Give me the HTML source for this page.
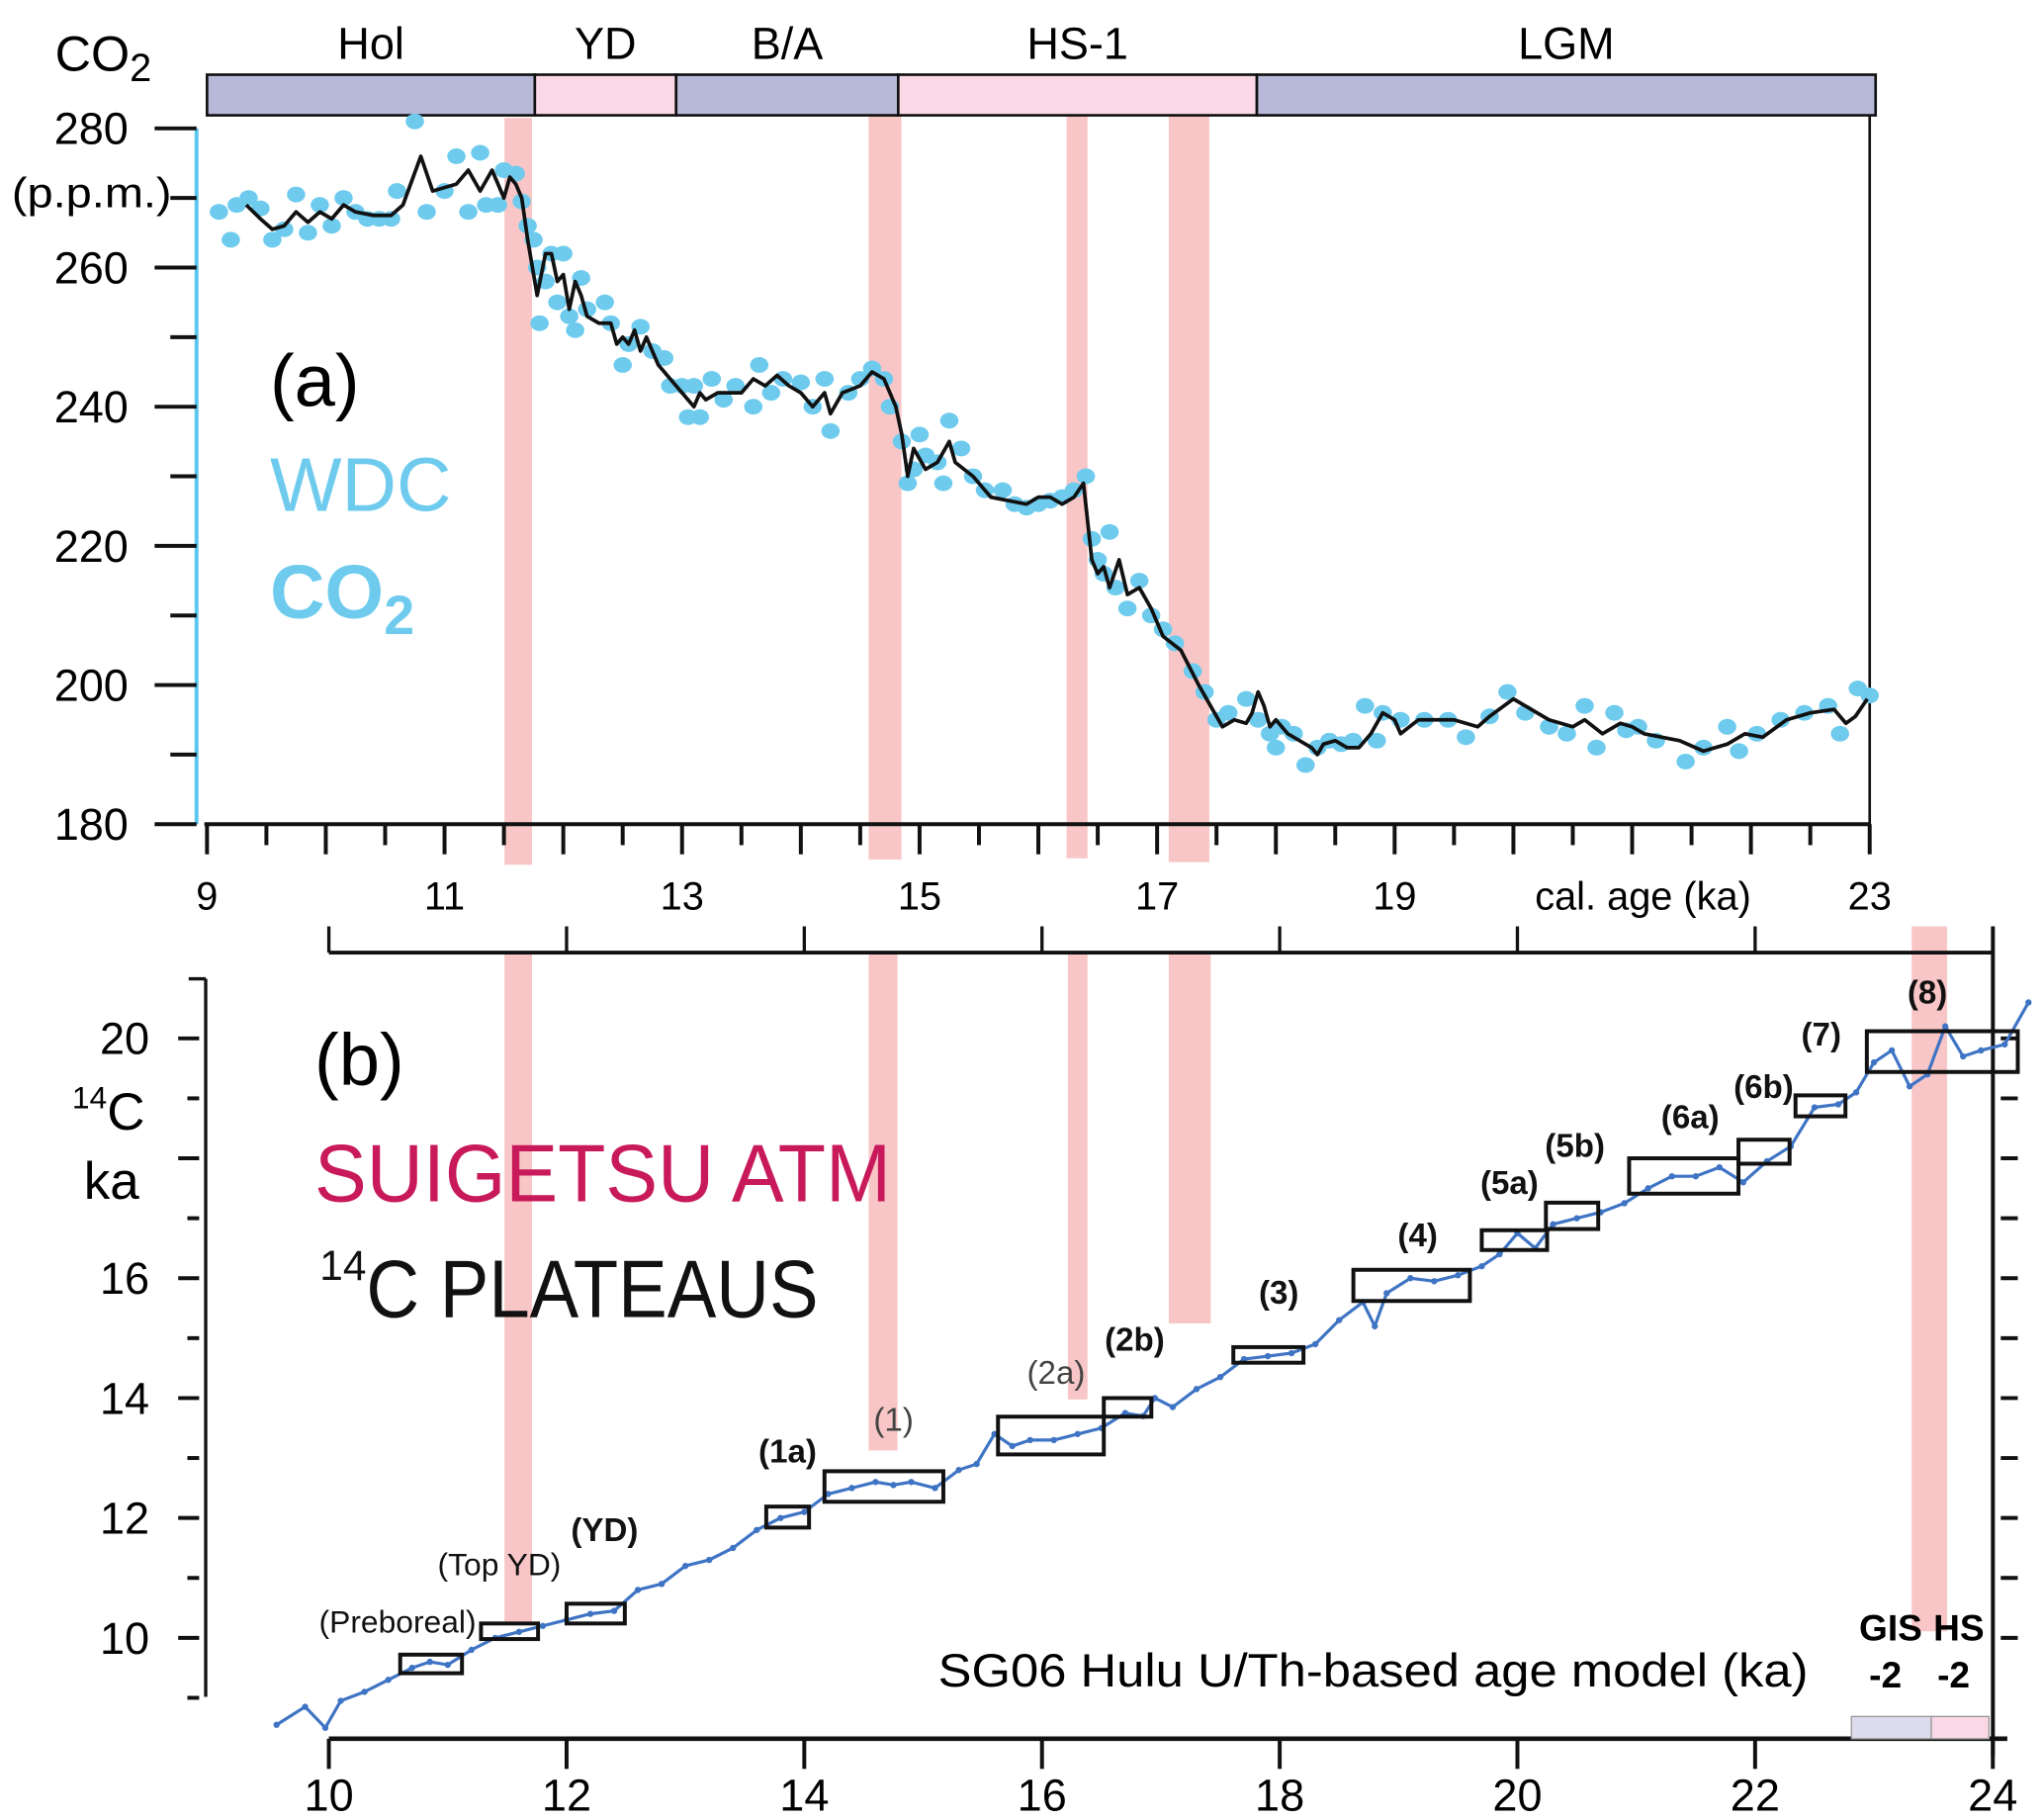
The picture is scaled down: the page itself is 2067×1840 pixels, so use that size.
<!DOCTYPE html>
<html><head><meta charset="utf-8"><style>
html,body{margin:0;padding:0;background:#fff;}
svg{display:block;}
text{font-family:"Liberation Sans",sans-serif;}
</style></head><body>
<svg id="fig" width="2067" height="1840" viewBox="0 0 1560 1389" preserveAspectRatio="none" xmlns="http://www.w3.org/2000/svg">
<g id="bgbars"></g>
<g id="pa"></g>
<g id="pb"></g>
</svg>
<script>
// ---- Panel (a) data: WDC CO2 ----
const co2LineAge = [9.33,9.45,9.55,9.65,9.75,9.85,9.95,10.05,10.15,10.25,10.4,10.55,10.65,10.8,10.9,11.1,11.2,11.3,11.4,11.5,11.55,11.6,11.65,11.7,11.78,11.85,11.9,11.95,12.0,12.05,12.1,12.15,12.2,12.3,12.4,12.45,12.5,12.55,12.6,12.65,12.7,12.8,12.9,13.0,13.1,13.15,13.2,13.3,13.5,13.6,13.7,13.8,13.9,14.0,14.1,14.2,14.25,14.35,14.5,14.6,14.7,14.75,14.8,14.85,14.9,14.95,15.05,15.15,15.25,15.3,15.45,15.6,15.9,16.0,16.1,16.2,16.3,16.38,16.45,16.5,16.55,16.6,16.68,16.75,16.85,16.95,17.05,17.2,17.35,17.45,17.55,17.65,17.75,17.8,17.85,17.9,17.95,18.0,18.1,18.2,18.3,18.35,18.4,18.5,18.6,18.7,18.8,18.9,19.0,19.05,19.2,19.5,19.7,19.8,20.0,20.3,20.5,20.6,20.75,20.9,21.0,21.1,21.4,21.6,21.8,21.95,22.1,22.3,22.5,22.7,22.8,22.88,22.98];
const co2LinePpm = [269,267,265.5,266,268,266.5,268,267,269,268,267.5,267.5,269,276,271,272,274,271,274,270,273,272,270,264,256,262,262,258,259,254,258,256,253,252,252,249,250,249,251,248,250,246,244,242,240,242,241,242,242,244,243,244.5,243,242,240,242,239,242,243,245,244,242,240,236,230,234,231,232,235,232,230,227,226,227,227,226,227,229,218,216,217,214,218,213,214,211,207,205,200,197,194,195,194.5,196,199,197,194,195,193,192,191,190,191.5,192,191,191,193,196,195,193,195,195,194,195.5,198,195,194,195,193,194.5,194,193,192,190.5,191.5,193,192.5,195,196,196.5,194.5,195.5,198];
const co2DotAge = [9.1,9.2,9.25,9.35,9.45,9.55,9.65,9.75,9.85,9.95,10.05,10.15,10.25,10.35,10.45,10.55,10.75,10.6,10.85,11.0,11.1,11.2,11.3,11.35,11.45,11.5,11.6,11.65,11.7,11.75,11.8,11.78,11.85,11.9,11.95,12.0,12.05,12.1,12.15,12.2,12.35,12.4,12.5,12.55,12.65,12.75,12.85,12.9,13.0,13.05,13.15,13.1,13.25,13.35,13.45,13.6,13.65,13.75,13.85,14.0,14.1,14.2,14.25,14.4,14.5,14.6,14.7,14.75,14.85,14.9,14.95,15.0,15.05,15.15,15.2,15.25,15.35,15.45,15.55,15.7,15.8,15.9,16.0,16.1,16.2,16.3,16.4,16.45,16.5,16.55,16.6,16.65,16.75,16.85,16.95,17.05,17.15,17.3,17.4,17.5,17.6,17.75,17.85,17.95,18.0,18.05,18.15,18.25,18.35,18.45,18.55,18.65,18.75,18.85,18.9,19.05,19.25,19.45,19.6,19.8,19.95,20.1,20.3,20.45,20.6,20.7,20.85,20.95,21.05,21.2,21.45,21.6,21.8,21.9,22.05,22.25,22.45,22.65,22.75,22.9,23.0];
const co2DotPpm = [268,264,269,270,268.5,264,265.5,270.5,265,269,266,270,268,267,267,267,281,271,268,271,276,268,276.5,269,269,274,273.5,269.5,266,264,252,260,258,262,255,262,253,251,258.5,254,255,252,246,249,251.5,248,247,243,243,238.5,238.5,243,244,241,243,240,246,242,244,243.5,240,244,236.5,242,244,245.5,244,240,235,229,231,236,233,232,229,238,234,230,228,228,226,225.5,226,226.5,227,228,230,221,218,216,222,214,211,215,210,208,206,202,199,195,196,198,195,193,191,194,193,188.5,191,192,191.5,192,197,192,196,195,195,195,192.5,195.5,199,196,194,193,197,191,196,193.5,194,192,189,191,194,190.5,193,195,196,197,193,199.5,198.5];
const co2Ticks = [180,200,220,240,260,280];
const ageTicksA = [9,11,13,15,17,19,23];
const periodNames = ["Hol","YD","B/A","HS-1","LGM"];
const periodStart = [9,11.76,12.95,14.82,17.84];
const periodEnd = [11.76,12.95,14.82,17.84,23.05];

// ---- Panel (b) data: Suigetsu 14C ----
const c14Age = [9.56,9.8,9.97,10.1,10.3,10.5,10.7,10.85,11.0,11.2,11.4,11.6,11.8,12.0,12.2,12.4,12.6,12.8,13.0,13.2,13.4,13.6,13.8,14.0,14.2,14.4,14.6,14.75,14.9,15.1,15.3,15.45,15.6,15.75,15.9,16.1,16.3,16.5,16.7,16.85,16.95,17.1,17.3,17.5,17.7,17.9,18.1,18.3,18.5,18.7,18.8,18.9,19.1,19.3,19.5,19.7,19.85,20.0,20.15,20.3,20.5,20.7,20.9,21.1,21.3,21.5,21.7,21.9,22.1,22.3,22.5,22.7,22.85,23.0,23.15,23.3,23.45,23.6,23.75,23.9,24.1,24.3];
const c14Val = [8.55,8.85,8.5,8.95,9.1,9.3,9.5,9.6,9.55,9.8,10.0,10.1,10.2,10.3,10.4,10.45,10.8,10.9,11.2,11.3,11.5,11.8,12.0,12.1,12.4,12.5,12.6,12.55,12.6,12.5,12.8,12.9,13.4,13.2,13.3,13.3,13.4,13.5,13.75,13.7,14.0,13.85,14.15,14.35,14.65,14.7,14.75,14.9,15.3,15.6,15.2,15.75,16.0,15.95,16.05,16.2,16.4,16.75,16.5,16.9,17.0,17.1,17.25,17.5,17.7,17.7,17.85,17.6,17.95,18.2,18.85,18.9,19.1,19.6,19.8,19.2,19.4,20.2,19.7,19.8,19.9,20.6];
const plateauNames = ["(Preboreal)","(Top YD)","(YD)","(1a)","(1)","(2a)","(2b)","(3)","(4)","(5a)","(5b)","(6a)","(6b)","(7)","(8)"];
const plateauAge0 = [10.6,11.28,12.0,13.68,14.17,15.63,16.52,17.61,18.62,19.7,20.24,20.94,21.86,22.34,22.94];
const plateauAge1 = [11.12,11.76,12.49,14.04,15.17,16.52,16.92,18.2,19.6,20.25,20.68,21.86,22.29,22.76,24.21];
const plateauC0 = [9.41,9.98,10.24,11.84,12.27,13.06,13.69,14.59,15.62,16.47,16.82,17.41,17.91,18.7,19.44];
const plateauC1 = [9.72,10.24,10.57,12.19,12.78,13.69,14.0,14.85,16.14,16.8,17.26,18.0,18.31,19.05,20.12];
const c14Ticks = [10,12,14,16,20];
const ageTicksB = [10,12,14,16,18,20,22,24];

const NS="http://www.w3.org/2000/svg";
function mk(parent,tag,attrs,txt){const e=document.createElementNS(NS,tag);for(const k in attrs)e.setAttribute(k,attrs[k]);if(txt!==undefined)e.textContent=txt;parent.appendChild(e);return e;}
const pa=document.getElementById('pa'), pb=document.getElementById('pb'), bg=document.getElementById('bgbars');

const xA = a => 158 + (a-9)*90.64;
const yA = p => 629 - (p-180)*5.31;
const xB = a => 251 + (a-10)*90.71;
const yB = c => 1250 - (c-10)*45.75;

const hl=[[385,406,90,660],[663,688,88,656],[814,830,88,655],[892,923,88,658],[385,406,728,1240],[663,685,728,1107],[815,830,728,1068],[892,924,728,1010],[1459,1486,707,1245]];
hl.forEach(h=>{const r=mk(bg,'rect',{x:h[0],y:h[2],width:h[1]-h[0],height:h[3]-h[2],fill:'#f5b3b3','fill-opacity':0.75});

});

// ---- Panel a ----
let t=mk(pa,'text',{x:42,y:54,'font-size':38},'CO');


mk(t,'tspan',{'font-size':30,dy:8},'2');
t=mk(pa,'text',{x:70,y:158,'font-size':32,'text-anchor':'middle',textLength:122,lengthAdjust:'spacingAndGlyphs'},'(p.p.m.)');



periodNames.forEach((n,i)=>{
  const r=mk(pa,'rect',{x:xA(periodStart[i]),y:57,width:xA(periodEnd[i])-xA(periodStart[i]),height:31,fill:(i%2? '#fbd8e6':'#b8b9d8'),stroke:'#111','stroke-width':2});
  
  
  const tx=mk(pa,'text',{x:(xA(periodStart[i])+xA(periodEnd[i]))/2,y:45,'font-size':34,'text-anchor':'middle'},n);
  
  
});
let l=mk(pa,'line',{x1:150,y1:98,x2:150,y2:629,stroke:'#5bc6ee','stroke-width':3});


l=mk(pa,'line',{x1:xA(23),y1:88,x2:xA(23),y2:629,stroke:'#111','stroke-width':2});


l=mk(pa,'line',{x1:xA(9)-2,y1:629,x2:xA(23)+1,y2:629,stroke:'#111','stroke-width':3});


for(let p=180;p<=280;p+=10){
  const maj=p%20===0;
  const k=mk(pa,'line',{x1:maj?118:130,y1:yA(p),x2:150,y2:yA(p),stroke:'#111','stroke-width':3});
  
  
}
co2Ticks.forEach(p=>{const k=mk(pa,'text',{x:98,y:yA(p)+12,'font-size':34,'text-anchor':'end'},String(p));

});
for(let a=9;a<=23.01;a+=0.5){
  const maj=Math.abs(a-Math.round(a))<0.01;
  const k=mk(pa,'line',{x1:xA(a),y1:629,x2:xA(a),y2:maj?652:645,stroke:'#111','stroke-width':3});
  
  
}
ageTicksA.forEach(a=>{const k=mk(pa,'text',{x:xA(a),y:694,'font-size':30,'text-anchor':'middle'},String(a));

});
t=mk(pa,'text',{x:1254,y:694,'font-size':30,'text-anchor':'middle'},'cal. age  (ka)');



co2DotAge.forEach((a,i)=>{const d=mk(pa,'ellipse',{cx:xA(a),cy:yA(co2DotPpm[i]),rx:7,ry:6,fill:'#6ecbee'});

});
const pl=mk(pa,'polyline',{points:co2LineAge.map((a,i)=>xA(a)+','+yA(co2LinePpm[i])).join(' '),fill:'none',stroke:'#111','stroke-width':2.8,'stroke-linejoin':'round'});



t=mk(pa,'text',{x:206,y:310,'font-size':56},'(a)');


t=mk(pa,'text',{x:206,y:390,'font-size':58,fill:'#6ecbee'},'WDC');


t=mk(pa,'text',{x:206,y:472,'font-size':58,'font-weight':'bold',fill:'#6ecbee'},'CO');


mk(t,'tspan',{'font-size':42,dy:12},'2');

// ---- Panel b ----
l=mk(pb,'line',{x1:251,y1:727,x2:1521,y2:727,stroke:'#111','stroke-width':3});


ageTicksB.forEach(a=>{const k=mk(pb,'line',{x1:xB(a),y1:707,x2:xB(a),y2:727,stroke:'#111','stroke-width':2.5});

});
l=mk(pb,'line',{x1:1521,y1:707,x2:1521,y2:1340,stroke:'#111','stroke-width':3});


l=mk(pb,'line',{x1:251,y1:1327,x2:1532,y2:1327,stroke:'#111','stroke-width':3.5});


ageTicksB.forEach(a=>{
  const k=mk(pb,'line',{x1:xB(a),y1:1327,x2:xB(a),y2:1350,stroke:'#111','stroke-width':3});
  
  
  const tx=mk(pb,'text',{x:xB(a),y:1382,'font-size':34,'text-anchor':'middle'},String(a));
  
  
});
l=mk(pb,'line',{x1:157,y1:747,x2:157,y2:1295,stroke:'#111','stroke-width':2.5});


mk(pb,'line',{x1:144,y1:747,x2:157,y2:747,stroke:'#111','stroke-width':2.5});
for(let c=9;c<=20;c++){
  const maj=c%2===0;
  const k=mk(pb,'line',{x1:maj?136:143,y1:yB(c),x2:152,y2:yB(c),stroke:'#111','stroke-width':3});
  
  
  if(c>=10){const r=mk(pb,'line',{x1:1527,y1:yB(c),x2:1540,y2:yB(c),stroke:'#111','stroke-width':3});
  
  }
}
c14Ticks.forEach(c=>{const k=mk(pb,'text',{x:114,y:yB(c)+12,'font-size':34,'text-anchor':'end'},String(c));

});
t=mk(pb,'text',{x:55,y:862,'font-size':40},'');


mk(t,'tspan',{'font-size':24,dy:-16},'14');
mk(t,'tspan',{'font-size':40,dy:16},'C');
t=mk(pb,'text',{x:64,y:915,'font-size':40},'ka');



const bl=mk(pb,'polyline',{points:c14Age.map((a,i)=>xB(a)+','+yB(c14Val[i])).join(' '),fill:'none',stroke:'#3f74c4','stroke-width':2.4});


c14Age.forEach((a,i)=>{const d=mk(pb,'circle',{cx:xB(a),cy:yB(c14Val[i]),r:2.4,fill:'#3f74c4'});

});

const boldLbl=[false,false,true,true,false,false,true,true,true,true,true,true,true,true,true];
plateauNames.forEach((n,i)=>{
  const x0=xB(plateauAge0[i]),x1=xB(plateauAge1[i]),y0=yB(plateauC1[i]),y1=yB(plateauC0[i]);
  const r=mk(pb,'rect',{x:x0,y:y0,width:x1-x0,height:y1-y0,fill:'none',stroke:'#111','stroke-width':3});
  
  
  let lx=(x0+x1)/2, ly=y0-16;
  if(i===0){lx=x0-2;ly=1246;} if(i===1){lx=x0+14;ly=1202;} if(i===2){lx=x0+29;ly=1176;}
  if(i===3){ly=1116;} if(i===4){lx=682;ly=1092;} if(i===5){lx=806;ly=1056;} if(i===6){lx=866;ly=1031;}
  if(i===7){lx=976;ly=995;} if(i===8){lx=1082;ly=951;} if(i===9){lx=1152;ly=911;} if(i===10){lx=1202;ly=883;}
  if(i===11){lx=1290;ly=861;} if(i===12){lx=1346;ly=838;} if(i===13){lx=1390;ly=798;} if(i===14){lx=1471;ly=766;}
  const tx=mk(pb,'text',{x:lx,y:ly,'font-size':i<2?24:25,'text-anchor':'middle','font-weight':boldLbl[i]?'bold':'normal',fill:(i===4||i===5)?'#444':'#111'},n);
  
  
});

t=mk(pb,'text',{x:240,y:828,'font-size':56},'(b)');


t=mk(pb,'text',{x:240,y:917,'font-size':62,fill:'#c8195a',textLength:440,lengthAdjust:'spacingAndGlyphs'},'SUIGETSU  ATM');


t=mk(pb,'text',{x:244,y:1005,'font-size':62,fill:'#111'},'');


mk(t,'tspan',{'font-size':32,dy:-28},'14');
mk(t,'tspan',{'font-size':62,dy:28,textLength:345,lengthAdjust:'spacingAndGlyphs'},'C PLATEAUS');
t=mk(pb,'text',{x:716,y:1287,'font-size':36,textLength:664,lengthAdjust:'spacingAndGlyphs'},'SG06  Hulu  U/Th-based age model (ka)');


[['GIS',1443],['HS',1495]].forEach(g=>{
  const a=mk(pb,'text',{x:g[1],y:1252,'font-size':28,'font-weight':'bold','text-anchor':'middle'},g[0]);
  
  
  const b=mk(pb,'text',{x:g[1]-4,y:1288,'font-size':28,'font-weight':'bold','text-anchor':'middle'},'-2');
  
  
});
let r=mk(pb,'rect',{x:1413,y:1310,width:61,height:17,fill:'#dcdcec',stroke:'#999','stroke-width':1});


r=mk(pb,'rect',{x:1474,y:1310,width:44,height:17,fill:'#fbd8e6',stroke:'#999','stroke-width':1});


</script>
</body></html>
